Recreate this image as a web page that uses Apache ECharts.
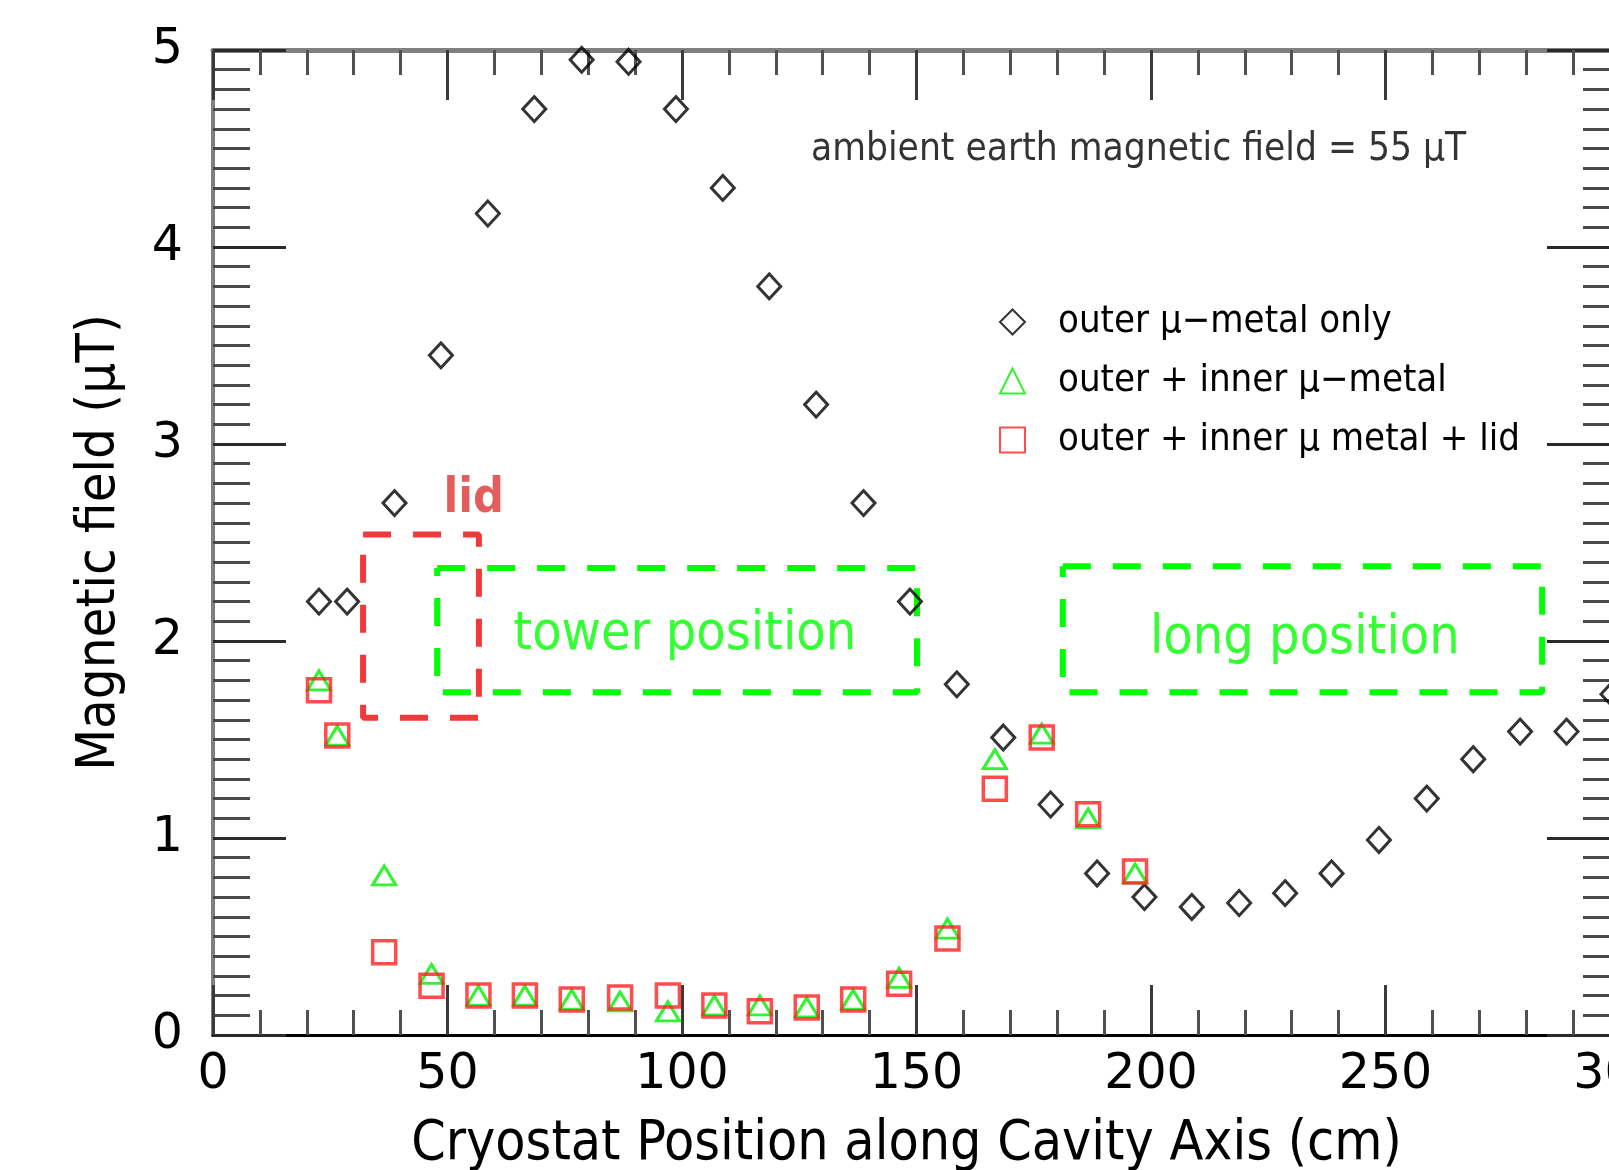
<!DOCTYPE html>
<html>
<head>
<meta charset="utf-8">
<script src="https://cdn.jsdelivr.net/npm/echarts@6/dist/echarts.min.js"></script>
<style>
html, body { margin: 0; padding: 0; background: #fff; }
#chart { width: 1609px; height: 1170px; }
</style>
</head>
<body>
<div id="chart"></div>
<script>
// outer mu-metal only (black diamonds)
const outerX = [22.6, 28.6, 38.7, 48.6, 58.6, 68.5, 78.6, 88.6, 98.7, 108.7, 118.6, 128.6, 138.7, 148.6, 158.6, 168.5, 178.6, 188.5, 198.6, 208.7, 218.8, 228.6, 238.5, 248.6, 258.8, 268.7, 278.7, 288.6, 298.4];
const outerY = [2.20, 2.20, 2.70, 3.45, 4.17, 4.70, 4.95, 4.94, 4.70, 4.30, 3.80, 3.20, 2.70, 2.20, 1.78, 1.51, 1.17, 0.82, 0.70, 0.65, 0.67, 0.72, 0.82, 0.99, 1.20, 1.40, 1.54, 1.54, 1.73];

// outer + inner (green triangles) and outer + inner + lid (red squares)
const innerX = [22.6, 26.5, 36.5, 46.6, 56.6, 66.5, 76.5, 86.8, 97.0, 106.9, 116.6, 126.6, 136.5, 146.3, 156.6, 166.7, 176.7, 186.6, 196.6];
const innerY = [1.80, 1.52, 0.81, 0.31, 0.20, 0.20, 0.18, 0.17, 0.12, 0.15, 0.15, 0.14, 0.18, 0.29, 0.54, 1.40, 1.53, 1.10, 0.82];
const lidY   = [1.75, 1.52, 0.42, 0.25, 0.20, 0.20, 0.18, 0.19, 0.20, 0.15, 0.12, 0.14, 0.18, 0.26, 0.49, 1.25, 1.51, 1.12, 0.83];

const seriesNames = ['outer \u03bc\u2212metal only', 'outer + inner \u03bc\u2212metal', 'outer + inner \u03bc metal + lid'];

// annotation boxes (data units)
const lidBox   = [[32, 2.54], [56.7, 2.54], [56.7, 1.61], [32, 1.61], [32, 2.54]];
const towerBox = [[47.8, 2.37], [150.1, 2.37], [150.1, 1.74], [47.8, 1.74], [47.8, 2.37]];
const longBox  = [[181.2, 2.38], [283.4, 2.38], [283.4, 1.74], [181.2, 1.74], [181.2, 2.38]];

const COND = "'DejaVu Sans Condensed', 'DejaVu Sans', sans-serif";

function zip(xs, ys) {
  return xs.map((x, i) => [x, ys[i]]);
}

function xAx(pos, showLabel) {
  return {
    type: 'value', min: 0, max: 300, interval: 50, position: pos,
    axisLine: { show: true, onZero: false, lineStyle: { color: pos === 'bottom' ? '#000' : '#808080', width: pos === 'bottom' ? 3 : 5 } },
    axisTick: { show: true, inside: true, length: 50, lineStyle: { color: '#3a3a3a', width: 3 } },
    minorTick: { show: true, splitNumber: 5, length: 25, lineStyle: { color: '#505050', width: 3 } },
    splitLine: { show: false },
    axisLabel: { show: showLabel, fontSize: 49, color: '#000', margin: 16, fontFamily: 'DejaVu Sans' }
  };
}

function yAx(pos, showLabel) {
  return {
    type: 'value', min: 0, max: 5, interval: 1, position: pos,
    axisLine: { show: true, onZero: false, lineStyle: { color: '#808080', width: 4 } },
    axisTick: { show: true, inside: true, length: 73, lineStyle: { color: '#2a2a2a', width: 3 } },
    minorTick: { show: true, splitNumber: 10, length: 37, lineStyle: { color: '#4a4a4a', width: 3 } },
    splitLine: { show: false },
    axisLabel: { show: showLabel, fontSize: 49, color: '#000', margin: 30, fontFamily: 'DejaVu Sans' }
  };
}

const bottomX = xAx('bottom', true);
bottomX.name = 'Cryostat Position along Cavity Axis (cm)';
bottomX.nameLocation = 'middle';
bottomX.nameGap = 82;
bottomX.nameTextStyle = { fontSize: 55, color: '#000', fontFamily: COND, padding: [0, 20, 0, 0] };

const leftY = yAx('left', true);
leftY.name = 'Magnetic field (\u03bcT)';
leftY.nameLocation = 'middle';
leftY.nameGap = 86;
leftY.nameTextStyle = { fontSize: 54, color: '#000', fontFamily: COND };

function boxSeries(data, color) {
  return {
    type: 'line', data: data, symbol: 'none', silent: true, z: 1,
    lineStyle: { color: color, width: 6, type: [28, 22] }
  };
}

function textSeries(pt, text, pos, style) {
  return {
    type: 'scatter', data: [pt], symbolSize: 0, silent: true, z: 5,
    label: Object.assign({ show: true, position: pos, distance: 0, formatter: text }, style)
  };
}

const chart = echarts.init(document.getElementById('chart'));
chart.setOption({
  animation: false,
  backgroundColor: '#fff',
  grid: { left: 213, top: 50, width: 1407, height: 985, outerBoundsMode: 'none' },
  xAxis: [bottomX, xAx('top', false)],
  yAxis: [leftY, yAx('right', false)],
  legend: {
    orient: 'vertical', left: 994, top: 298,
    itemWidth: 25, itemHeight: 25, itemGap: 21,
    data: seriesNames,
    textStyle: { fontSize: 38, color: '#000', fontFamily: COND, padding: [0, 0, 0, 28] }
  },
  series: [
    boxSeries(lidBox, '#ee3a3a'),
    boxSeries(towerBox, '#00ff00'),
    boxSeries(longBox, '#00ff00'),
    {
      name: seriesNames[0], type: 'scatter', data: zip(outerX, outerY), z: 3,
      symbol: 'diamond', symbolSize: [23, 25],
      itemStyle: { color: 'transparent', borderColor: '#000', borderWidth: 3 }
    },
    {
      name: seriesNames[1], type: 'scatter', data: zip(innerX, innerY), z: 3,
      symbol: 'triangle', symbolSize: [23, 19],
      itemStyle: { color: 'transparent', borderColor: '#00ee00', borderWidth: 3 }
    },
    {
      name: seriesNames[2], type: 'scatter', data: zip(innerX, lidY), z: 4,
      symbol: 'rect', symbolSize: 23,
      itemStyle: { color: 'transparent', borderColor: '#ff2020', borderWidth: 3.5 }
    },
    textSeries([127.5, 4.49], 'ambient earth magnetic field = 55 \u03bcT', 'right',
      { fontSize: 38.5, color: '#000', fontFamily: COND }),
    textSeries([100.6, 2.03], 'tower position', 'inside',
      { fontSize: 53.5, color: '#00ff00', fontFamily: COND }),
    textSeries([232.8, 2.01], 'long position', 'inside',
      { fontSize: 53.5, color: '#00ff00', fontFamily: COND }),
    textSeries([55.6, 2.72], 'lid', 'inside',
      { fontSize: 48, color: '#dd3535', fontWeight: 'bold', fontFamily: COND })
  ]
});
</script>
</body>
</html>
